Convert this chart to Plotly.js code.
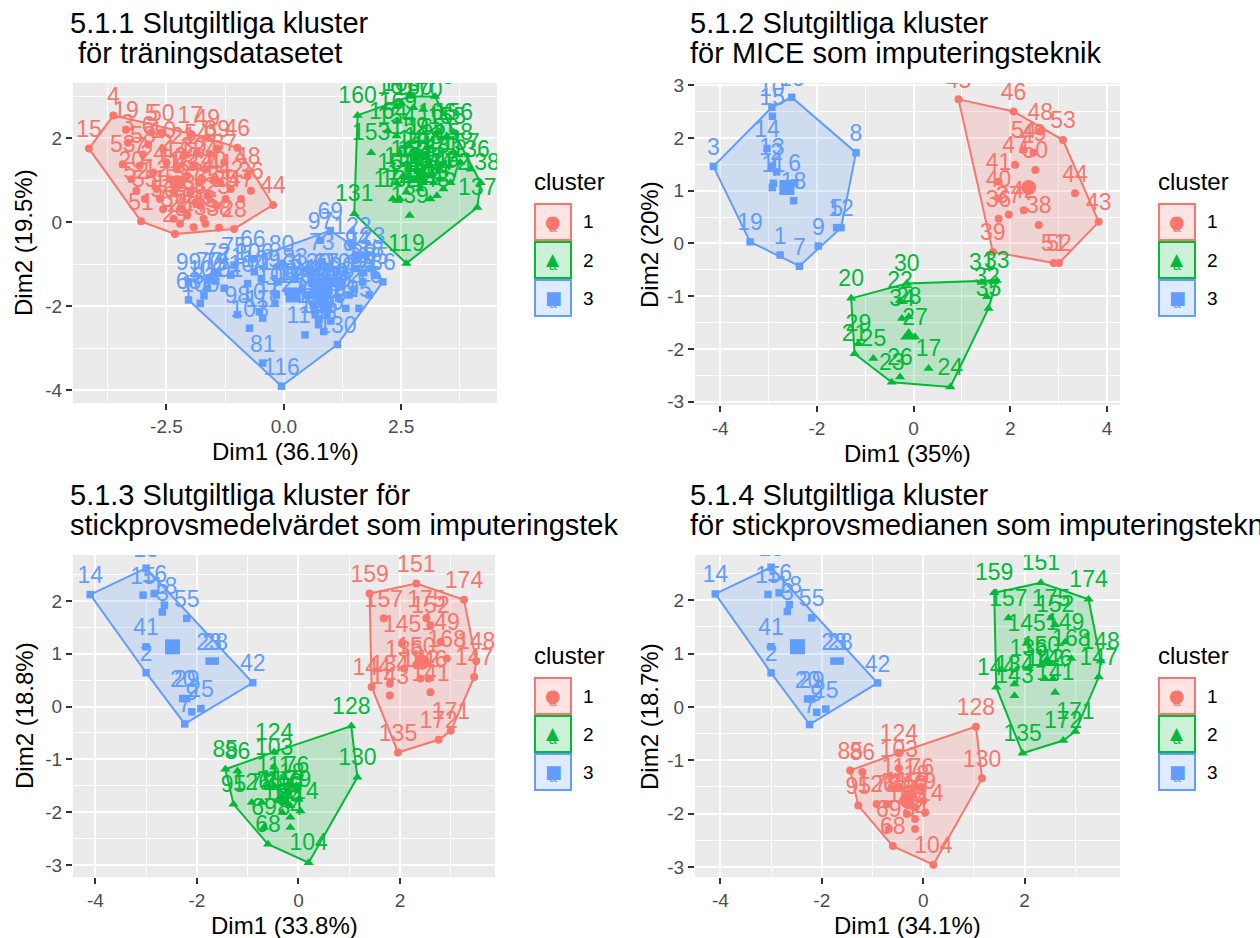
<!DOCTYPE html>
<html><head><meta charset="utf-8">
<script src="https://cdn.plot.ly/plotly-3.0.1.min.js"></script>
<style>html,body{margin:0;padding:0;background:#fff}#chart{width:1260px;height:938px}</style>
</head><body><div id="chart"></div>
<script>
// ---------------- DATA ----------------
// Panel 1 (5.1.1) cluster 1 (red)
const p1_c1_lab = [15,4,19,46,44,28,38,29,51,53, 3,20,7,58,5,6,24,12,1,10, 2,11,13,14,16,18,21,22,27,54, 30,31,32,9,33,34,35,39,40,23, 41,25,42,36,26,43,45,17,49,50, 52,55,56,57,59,8,37,47,48];
const p1_c1_x = [-4.15,-3.63,-3.36,-0.99,-0.23,-1.06,-1.38,-2.32,-3.04,-3.43, -3.32,-3.25,-3.07,-3.00,-2.82,-2.89,-2.78,-2.71,-2.64,-2.57, -2.50,-2.42,-2.35,-2.28,-2.21,-2.17,-2.14,-2.06,-1.99,-1.85, -1.92,-1.88,-1.81,-1.56,-1.71,-1.67,-1.63,-1.42,-1.49,-1.42, -1.35,-1.24,-1.13,-0.70,-2.21,-1.92,-1.67,-1.99,-1.63,-2.60, -3.14,-2.96,-2.57,-2.35,-2.06,-1.78,-1.27,-0.91,-0.77];
const p1_c1_y = [1.75,2.54,2.20,1.77,0.41,-0.16,-0.13,-0.28,0.02,1.38, 1.89,1.02,1.34,1.61,2.13,1.85,1.18,0.79,0.55,1.73, 1.42,1.02,0.71,1.26,0.94,0.31,1.57,1.10,0.71,1.65, 1.34,0.47,0.94,1.62,0.08,1.26,0.63,1.75,1.02,0.39, 0.94,0.55,0.79,0.75,-0.04,-0.12,-0.04,2.09,2.01,2.13, 0.75,0.55,0.31,0.08,0.16,0.39,1.42,0.55,1.10];
// Panel 1 cluster 2 (green)
const p1_c2_lab = [160,153,161,169,163,167,150,170,173,164, 154,162,165,166,155,158,156,157,136,138, 137,139,132,133,134,135,140,141,142,143, 144,145,146,147,148,149,151,152,159,168, 171,172,131,119,174];
const p1_c2_x = [1.57,1.86,2.40,2.43,2.50,2.68,2.76,2.97,3.22,2.22, 2.40,2.68,3.04,3.26,3.47,3.62,3.62,3.76,3.98,4.19, 4.12,2.68,2.47,2.61,2.76,2.83,2.90,2.97,3.04,3.12, 3.19,3.26,3.33,3.40,3.12,2.83,2.54,2.40,2.68,2.97, 3.33,3.55,1.50,2.61,2.32];
const p1_c2_y = [2.54,1.65,2.76,2.40,2.83,2.99,2.72,2.68,2.99,2.17, 2.05,1.26,1.77,2.13,2.05,1.65,2.13,1.42,1.26,0.94, 0.35,0.16,0.55,0.71,1.02,1.26,0.79,0.94,1.10,0.55, 0.94,0.63,1.02,0.79,1.34,1.50,1.10,0.94,1.81,1.57, 1.34,0.94,0.20,-0.98,0.55];
// Panel 1 cluster 3 (blue)
const p1_c3_lab = [63,99,100,102,77,72,101,71,75,98, 66,104,103,106,107,109,111,81,112,105, 113,80,116,114,83,115,117,118,120,121, 124,125,126,73,127,128,129,108,69,110, 130,89,90,91,92,122,93,94,95,96, 123,76,78,85,86,97,60,61,62,64, 65,67,68,70,74,79,82,84,87,88];
const p1_c3_x = [-2.03,-2.03,-1.78,-1.63,-1.60,-1.42,-1.27,-1.13,-1.06,-0.99, -0.66,-0.77,-0.73,-0.63,-0.52,-0.48,-0.45,-0.45,-0.19,-0.16, -0.12,-0.05,-0.05,0.09,0.24,0.24,0.45,0.53,0.60,0.63, 0.67,0.74,0.78,0.81,0.85,0.88,0.92,0.96,0.99,1.03, 1.14,1.17,1.24,1.32,1.39,1.46,1.53,1.57,1.60,1.68, 1.75,1.82,1.86,1.96,2.11,0.78,0.70,0.80,0.75,0.95, 0.85,0.90,0.65,1.00,0.72,-1.45,-1.70,0.40,1.50,1.70];
const p1_c3_y = [-1.85,-1.42,-1.93,-1.57,-1.38,-1.18,-1.57,-1.26,-1.02,-2.20, -0.87,-1.46,-2.52,-1.18,-2.13,-1.34,-2.28,-3.35,-1.93,-1.73, -1.42,-0.98,-3.90,-1.65,-1.30,-1.73,-2.68,-1.73,-1.42,-1.97, -2.20,-2.44,-1.57,-0.94,-2.05,-1.81,-2.20,-1.65,-0.20,-1.42, -2.91,-1.81,-1.50,-2.05,-1.73,-0.55,-1.10,-0.87,-2.05,-1.42, -0.79,-1.73,-1.10,-1.26,-1.42,-0.43,-1.60,-1.90,-2.30,-2.00, -2.60,-1.40,-2.10,-2.35,-1.75,-1.40,-1.75,-1.55,-1.60,-1.20];
// Panel 1 cluster centres [cluster1, cluster2, cluster3]
const p1_cent_x = [-2.28, 2.90, 0.20];
const p1_cent_y = [0.94, 1.02, -1.73];

// Panel 2 (5.1.2, MICE)
const p2_c1_lab = [36,37,38,39,40,41,42,43,44,45, 46,47,48,49,50,51,52,53,54];
const p2_c1_x = [1.76,1.97,2.59,1.64,1.76,1.76,2.28,3.83,3.34,0.93, 2.07,2.10,2.62,2.48,2.52,2.90,3.01,3.09,2.28];
const p2_c1_y = [0.47,0.55,0.35,-0.16,0.85,1.17,0.63,0.41,0.95,2.73, 2.50,1.49,2.12,1.72,1.39,-0.37,-0.37,1.96,1.77];
const p2_c2_lab = [17,20,21,22,23,24,25,26,27,28, 29,30,31,32,33,34,35];
const p2_c2_x = [0.31,-1.29,-1.22,-0.28,-0.45,0.76,-0.83,-0.28,0.03,-0.10, -1.14,-0.14,1.41,1.52,1.72,-0.24,1.55];
const p2_c2_y = [-2.37,-1.04,-2.09,-1.08,-2.63,-2.72,-2.18,-2.53,-1.77,-1.39, -1.90,-0.76,-0.74,-1.01,-0.70,-1.42,-1.23];
const p2_c3_lab = [3,16,10,15,14,13,2,11,4,6, 18,5,12,9,7,1,19,8];
const p2_c3_x = [-4.14,-2.52,-2.93,-2.92,-3.03,-2.93,-2.83,-2.90,-2.92,-2.46, -2.48,-1.59,-1.50,-1.97,-2.36,-2.76,-3.38,-1.19];
const p2_c3_y = [1.46,2.77,2.58,2.41,1.80,1.46,1.36,1.14,1.06,1.15, 0.81,0.30,0.30,-0.05,-0.43,-0.22,0.03,1.72];
const p2_cent_x = [2.38, -0.10, -2.62];
const p2_cent_y = [1.06, -1.75, 1.06];

// Panel 3 (5.1.3, sample mean) – cluster 1 = right group, 2 = bottom group, 3 = left group
const p3_c1_lab = [159,151,174,148,147,171,172,135,144,157, 175,152,145,149,168,134,143,146,142,141, 150,136];
const p3_c1_x = [1.40,2.32,3.26,3.50,3.46,3.00,2.76,1.96,1.44,1.68, 2.52,2.60,2.04,2.80,2.92,1.80,1.80,2.56,2.40,2.60, 2.32,2.08];
const p3_c1_y = [2.14,2.33,2.02,0.86,0.56,-0.46,-0.63,-0.87,0.37,1.67, 1.67,1.54,1.19,1.22,0.91,0.43,0.21,0.53,0.53,0.27, 0.78,0.72];
const p3_c2_lab = [128,130,104,68,95,85,86,124,103,76, 126,78,69,84,94,117,110,118,79,106, 111,89,114];
const p3_c2_x = [1.04,1.16,0.20,-0.60,-1.28,-1.44,-1.20,-0.48,-0.48,-0.04, -0.92,-0.72,-0.68,-0.16,-0.16,-0.40,-0.28,-0.24,0.00,-0.32, -0.48,-0.16,0.04];
const p3_c2_y = [-0.37,-1.34,-2.96,-2.61,-1.85,-1.19,-1.22,-0.86,-1.15,-1.50, -1.82,-1.82,-2.29,-2.29,-2.10,-1.76,-1.82,-1.63,-1.76,-2.01, -1.50,-1.88,-1.98];
const p3_c3_lab = [14,13,15,16,18,3,55,41,2,23, 28,42,20,29,25,7,9];
const p3_c3_x = [-4.10,-3.00,-3.06,-2.84,-2.64,-2.68,-2.20,-3.00,-3.00,-1.76, -1.64,-0.90,-2.28,-2.20,-1.92,-2.24,-2.10];
const p3_c3_y = [2.12,2.62,2.11,2.14,1.92,1.79,1.67,1.13,0.64,0.86, 0.86,0.45,0.15,0.15,-0.04,-0.33,-0.10];
const p3_cent_x = [2.44, -0.32, -2.48];
const p3_cent_y = [0.84, -1.76, 1.13];

// Panel 4 (5.1.4, sample median) – same observations, cluster 1 = bottom group, 2 = right group
const p4_c1_lab = p3_c2_lab, p4_c1_x = p3_c2_x, p4_c1_y = p3_c2_y;
const p4_c2_lab = p3_c1_lab, p4_c2_x = p3_c1_x, p4_c2_y = p3_c1_y;
const p4_c3_lab = p3_c3_lab, p4_c3_x = p3_c3_x, p4_c3_y = p3_c3_y;
const p4_cent_x = [-0.32, 2.44, -2.48];
const p4_cent_y = [-1.76, 0.84, 1.13];

// Titles and axis labels
const titles = [
  ["5.1.1 Slutgiltliga kluster", "för träningsdatasetet"],
  ["5.1.2 Slutgiltliga kluster", "för MICE som imputeringsteknik"],
  ["5.1.3 Slutgiltliga kluster för", "stickprovsmedelvärdet som imputeringstek"],
  ["5.1.4 Slutgiltliga kluster", "för stickprovsmedianen som imputeringsteknik"]
];
const xTitles = ["Dim1 (36.1%)", "Dim1 (35%)", "Dim1 (33.8%)", "Dim1 (34.1%)"];
const yTitles = ["Dim2 (19.5%)", "Dim2 (20%)", "Dim2 (18.8%)", "Dim2 (18.7%)"];
const clusterNames = ["1", "2", "3"];
const legendTitle = "cluster";

// Tick labels
const p1_xtick_vals = [-2.5, 0, 2.5], p1_xtick_text = ["-2.5", "0.0", "2.5"];
const p1_ytick_vals = [-4, -2, 0, 2], p1_ytick_text = ["-4", "-2", "0", "2"];
const p2_xtick_vals = [-4, -2, 0, 2, 4], p2_xtick_text = ["-4", "-2", "0", "2", "4"];
const p2_ytick_vals = [-3, -2, -1, 0, 1, 2, 3], p2_ytick_text = ["-3", "-2", "-1", "0", "1", "2", "3"];
const p3_xtick_vals = [-4, -2, 0, 2], p3_xtick_text = ["-4", "-2", "0", "2"];
const p3_ytick_vals = [-3, -2, -1, 0, 1, 2], p3_ytick_text = ["-3", "-2", "-1", "0", "1", "2"];
// minor grid positions
const p1_xminor = [-3.75, -1.25, 1.25, 3.75], p1_yminor = [-3, -1, 1, 3];
const p2_xminor = [-3, -1, 1, 3], p2_yminor = [-2.5, -1.5, -0.5, 0.5, 1.5, 2.5];
const p3_xminor = [-3, -1, 1, 3], p3_yminor = [-2.5, -1.5, -0.5, 0.5, 1.5, 2.5];

// ---------------- STYLE / LAYOUT ----------------
const W = 1260, H = 938;
const FONT = "Liberation Sans, Arial, Helvetica, sans-serif";
const COL = ["#F8766D", "#00BA38", "#619CFF"];
const FILL = ["rgba(248,118,109,0.2)", "rgba(0,186,56,0.2)", "rgba(97,156,255,0.2)"];
const SYM = ["circle", "triangle-up", "square"];
const MSIZE = [8, 9, 7.5];
const GLYPH = ["\u25CF", "\u25B2", "\u25A0"];
const TITLE_SIZE = 29, LABEL_SIZE = 23;

const panels = [
  { ax: "", px: [73, 497], py: [83, 403], xr: [-4.49, 4.54], yr: [-4.3, 3.31],
    cl: [[p1_c1_x, p1_c1_y, p1_c1_lab], [p1_c2_x, p1_c2_y, p1_c2_lab], [p1_c3_x, p1_c3_y, p1_c3_lab]],
    cx: p1_cent_x, cy: p1_cent_y, xt: [p1_xtick_vals, p1_xtick_text], yt: [p1_ytick_vals, p1_ytick_text],
    xm: p1_xminor, ym: p1_yminor, tx: 68, ty: 0, leg: [534, 203], ytx: 23 },
  { ax: "2", px: [695, 1120], py: [83, 405], xr: [-4.52, 4.27], yr: [-3.06, 3.04],
    cl: [[p2_c1_x, p2_c1_y, p2_c1_lab], [p2_c2_x, p2_c2_y, p2_c2_lab], [p2_c3_x, p2_c3_y, p2_c3_lab]],
    cx: p2_cent_x, cy: p2_cent_y, xt: [p2_xtick_vals, p2_xtick_text], yt: [p2_ytick_vals, p2_ytick_text],
    xm: p2_xminor, ym: p2_yminor, tx: 688, ty: 0, leg: [1158, 203], ytx: 649 },
  { ax: "3", px: [73, 495], py: [555, 877], xr: [-4.44, 3.87], yr: [-3.23, 2.87],
    cl: [[p3_c1_x, p3_c1_y, p3_c1_lab], [p3_c2_x, p3_c2_y, p3_c2_lab], [p3_c3_x, p3_c3_y, p3_c3_lab]],
    cx: p3_cent_x, cy: p3_cent_y, xt: [p3_xtick_vals, p3_xtick_text], yt: [p3_ytick_vals, p3_ytick_text],
    xm: p3_xminor, ym: p3_yminor, tx: 68, ty: 472, leg: [534, 677], ytx: 24 },
  { ax: "4", px: [695, 1120], py: [555, 877], xr: [-4.5, 3.88], yr: [-3.19, 2.85],
    cl: [[p4_c1_x, p4_c1_y, p4_c1_lab], [p4_c2_x, p4_c2_y, p4_c2_lab], [p4_c3_x, p4_c3_y, p4_c3_lab]],
    cx: p4_cent_x, cy: p4_cent_y, xt: [p3_xtick_vals, p3_xtick_text], yt: [p3_ytick_vals, p3_ytick_text],
    xm: p3_xminor, ym: p3_yminor, tx: 688, ty: 472, leg: [1158, 677], ytx: 649 }
];

const X = px => px / W;
const Y = py => 1 - py / H;

function convexHull(xs, ys) {
  const pts = xs.map((x, i) => [x, ys[i]]).sort((a, b) => a[0] - b[0] || a[1] - b[1]);
  const cross = (o, a, b) => (a[0] - o[0]) * (b[1] - o[1]) - (a[1] - o[1]) * (b[0] - o[0]);
  const lower = [];
  for (const p of pts) { while (lower.length >= 2 && cross(lower[lower.length - 2], lower[lower.length - 1], p) <= 0) lower.pop(); lower.push(p); }
  const upper = [];
  for (const p of pts.slice().reverse()) { while (upper.length >= 2 && cross(upper[upper.length - 2], upper[upper.length - 1], p) <= 0) upper.pop(); upper.push(p); }
  upper.pop(); lower.pop();
  const h = lower.concat(upper); h.push(h[0]);
  return h;
}

const traces = [];
const layout = {
  width: W, height: H, margin: { l: 0, r: 0, t: 0, b: 0 },
  paper_bgcolor: "#FFFFFF", plot_bgcolor: "#EBEBEB", showlegend: false,
  font: { family: FONT, color: "#000" },
  annotations: [], shapes: []
};

panels.forEach((P, pi) => {
  const xa = "x" + P.ax, ya = "y" + P.ax;
  // hulls
  P.cl.forEach((c, k) => {
    const h = convexHull(c[0], c[1]);
    traces.push({ type: "scatter", mode: "lines", xaxis: xa, yaxis: ya,
      x: h.map(p => p[0]), y: h.map(p => p[1]), fill: "toself", fillcolor: FILL[k],
      line: { color: COL[k], width: 2 }, hoverinfo: "skip" });
  });
  // points + labels
  P.cl.forEach((c, k) => {
    traces.push({ type: "scatter", mode: "markers+text", xaxis: xa, yaxis: ya,
      x: c[0], y: c[1], text: c[2].map(String), textposition: "top center",
      textfont: { family: FONT, size: LABEL_SIZE, color: COL[k] },
      marker: { symbol: SYM[k], size: MSIZE[k], color: COL[k] } });
  });
  // centres
  P.cx.forEach((cx, k) => {
    traces.push({ type: "scatter", mode: "markers", xaxis: xa, yaxis: ya,
      x: [cx], y: [P.cy[k]], marker: { symbol: SYM[k], size: 15, color: COL[k] } });
  });

  const axBase = {
    showgrid: true, gridcolor: "#FFFFFF", gridwidth: 2, zeroline: false, showline: false,
    ticks: "outside", ticklen: 6, tickwidth: 2, tickcolor: "#333333",
    tickfont: { family: FONT, size: 19, color: "#4D4D4D" }, tickmode: "array"
  };
  layout["xaxis" + P.ax] = Object.assign({}, axBase, {
    domain: [X(P.px[0]), X(P.px[1])], range: P.xr, anchor: ya,
    tickvals: P.xt[0], ticktext: P.xt[1],
    minor: { tickmode: "array", tickvals: P.xm, showgrid: true, gridcolor: "#FFFFFF", gridwidth: 1, ticks: "" }
  });
  layout["yaxis" + P.ax] = Object.assign({}, axBase, {
    domain: [Y(P.py[1]), Y(P.py[0])], range: P.yr, anchor: xa,
    tickvals: P.yt[0], ticktext: P.yt[1],
    minor: { tickmode: "array", tickvals: P.ym, showgrid: true, gridcolor: "#FFFFFF", gridwidth: 1, ticks: "" }
  });

  const A = layout.annotations;
  // titles (two lines)
  A.push({ xref: "paper", yref: "paper", x: X(P.tx), y: Y(P.ty + 23), xanchor: "left", yanchor: "middle",
    text: titles[pi][0], showarrow: false, font: { family: FONT, size: TITLE_SIZE, color: "#000" } });
  A.push({ xref: "paper", yref: "paper", x: X(P.tx + (pi === 0 ? 8 : 0)), y: Y(P.ty + 53), xanchor: "left", yanchor: "middle",
    text: titles[pi][1], showarrow: false, font: { family: FONT, size: TITLE_SIZE, color: "#000" } });
  // axis titles
  const cxp = (P.px[0] + P.px[1]) / 2, cyp = (P.py[0] + P.py[1]) / 2;
  A.push({ xref: "paper", yref: "paper", x: X(cxp), y: Y(P.py[1] + 48), xanchor: "center", yanchor: "middle",
    text: xTitles[pi], showarrow: false, font: { family: FONT, size: 24, color: "#000" } });
  A.push({ xref: "paper", yref: "paper", x: X(P.ytx), y: Y(cyp), xanchor: "center", yanchor: "middle", textangle: -90,
    text: yTitles[pi], showarrow: false, font: { family: FONT, size: 24, color: "#000" } });
  // legend
  const L = P.leg[0], T = P.leg[1];
  A.push({ xref: "paper", yref: "paper", x: X(L - 2), y: Y(T - 22), xanchor: "left", yanchor: "middle",
    text: legendTitle, showarrow: false, font: { family: FONT, size: 24, color: "#000" } });
  for (let k = 0; k < 3; k++) {
    const t0 = T + k * 38;
    layout.shapes.push({ type: "rect", xref: "paper", yref: "paper",
      x0: X(L + 1), x1: X(L + 37), y0: Y(t0 + 1), y1: Y(t0 + 37),
      fillcolor: FILL[k], line: { color: COL[k], width: 2 } });
    A.push({ xref: "paper", yref: "paper", x: X(L + 19), y: Y(t0 + 24), xanchor: "center", yanchor: "middle",
      text: "a", showarrow: false, font: { family: FONT, size: 14, color: COL[k] } });
    A.push({ xref: "paper", yref: "paper", x: X(L + 19), y: Y(t0 + 18), xanchor: "center", yanchor: "middle",
      text: GLYPH[k], showarrow: false, font: { family: "DejaVu Sans", size: k === 1 ? 17 : 18, color: COL[k] } });
    A.push({ xref: "paper", yref: "paper", x: X(L + 47), y: Y(t0 + 19), xanchor: "left", yanchor: "middle",
      text: clusterNames[k], showarrow: false, font: { family: FONT, size: 19, color: "#000" } });
  }
});

Plotly.newPlot("chart", traces, layout, { staticPlot: true });
</script></body></html>
